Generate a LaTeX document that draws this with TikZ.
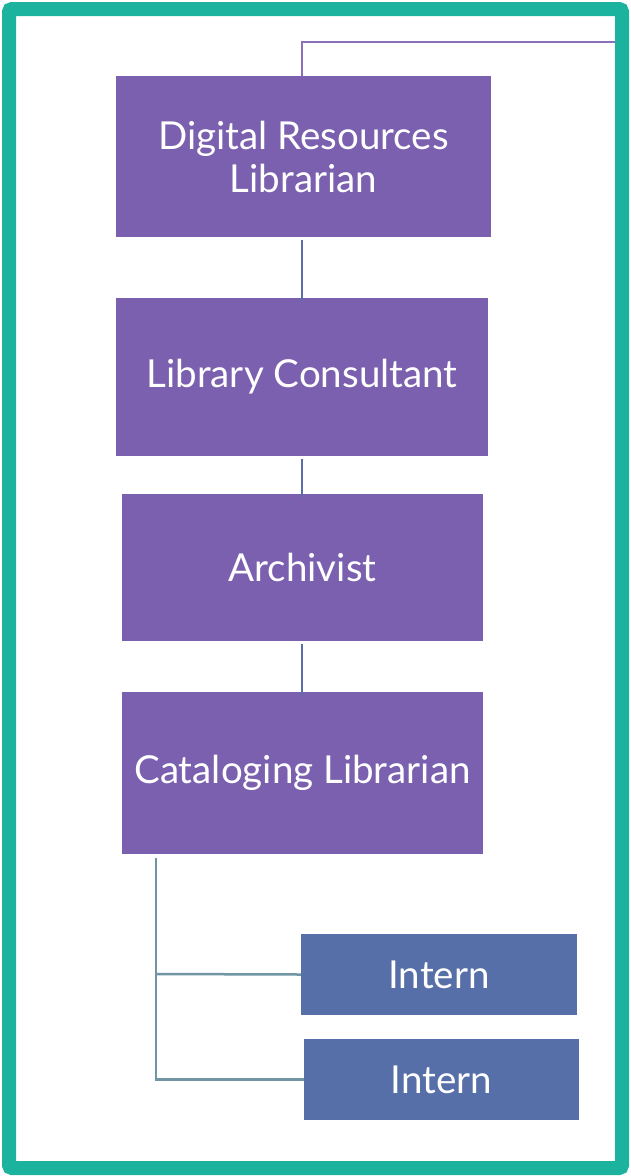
\documentclass[tikz,border=0pt]{standalone}
\usepackage{fontspec}
\setmainfont{Lato}
\definecolor{boxpurple}{HTML}{7A60AF}
\definecolor{boxblue}{HTML}{566FA8}
\definecolor{frameteal}{HTML}{1BB39E}
\definecolor{lineblue}{HTML}{5A6FA8}
\definecolor{linepurple}{HTML}{8A70B8}
\definecolor{linegray}{HTML}{7096A4}
\begin{document}
\begin{tikzpicture}[x=1pt,y=-1pt,
  rolebox/.style={fill=boxpurple,draw=none,text=white,align=center,font=\fontsize{38.5}{43}\selectfont,inner sep=0pt},
  internbox/.style={fill=boxblue,draw=none,text=white,align=center,font=\fontsize{38.5}{43}\selectfont,inner sep=0pt},
  conn/.style={draw=lineblue,line width=2.5pt},
  topconn/.style={draw=linepurple,line width=2.5pt},
  iconn/.style={draw=linegray,line width=2.5pt}]
\useasboundingbox (0,0) rectangle (631,1176);
\fill[white] (0,0) rectangle (631,1176);
% boxes
\node[rolebox,minimum width=375pt,minimum height=161pt] (drl) at (303.5,156.5) {Digital Resources\\Librarian};
\node[rolebox,minimum width=372pt,minimum height=158pt] (lc) at (302,377) {Library Consultant};
\node[rolebox,minimum width=361pt,minimum height=147pt] (arc) at (302.5,567.5) {Archivist};
\node[rolebox,minimum width=361pt,minimum height=162pt] (cat) at (302.5,773) {Cataloging Librarian};
\node[internbox,minimum width=276pt,minimum height=81pt] (in1) at (439,974.5) {Intern};
\node[internbox,minimum width=275pt,minimum height=81pt] (in2) at (441.5,1079.5) {Intern};
% connectors
\coordinate (topright) at (617,42);
\draw[topconn] (topright) -| (drl.north -| 302,0);
\draw[conn] (drl.south -| 302,0) ++(0,3) -- ([yshift=-3pt]lc.north -| 302,0);
\draw[conn] (lc.south -| 302,0) ++(0,3) -- ([yshift=-3pt]arc.north -| 302,0);
\draw[conn] (arc.south -| 302,0) ++(0,3) -- ([yshift=-3pt]cat.north -| 302,0);
\coordinate (trunk) at (156,858);
\draw[iconn] (trunk) |- (in2.west);
\draw[iconn] (156,974) -- (in1.west);
% frame
\draw[frameteal,line width=14pt,rounded corners=3pt] (9,9) rectangle (622,1168);
\end{tikzpicture}
\end{document}
